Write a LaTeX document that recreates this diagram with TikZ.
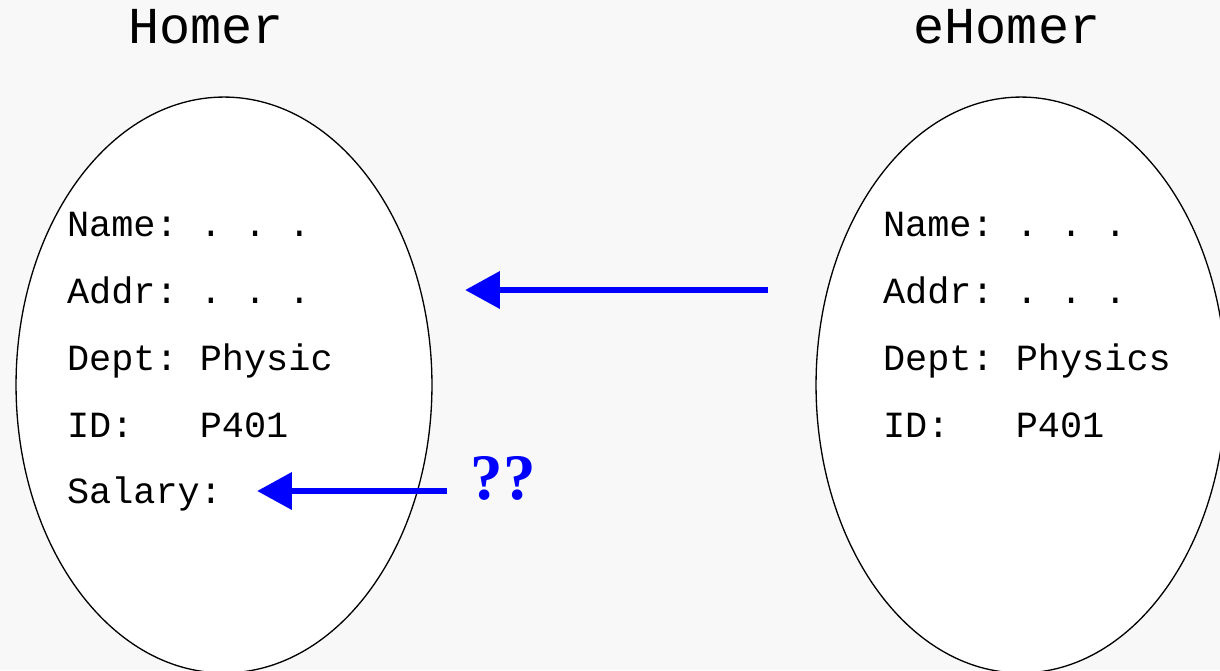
\documentclass[tikz,border=0pt]{standalone}
\usepackage{fontspec}
\setmainfont{Liberation Serif}
\setmonofont{Liberation Mono}
\usetikzlibrary{arrows.meta, shapes.geometric}
\definecolor{bggray}{HTML}{F8F8F8}
\definecolor{qblue}{RGB}{0,0,255}

\begin{document}
\begin{tikzpicture}[x=0.02cm, y=-0.02cm, every node/.style={inner sep=0pt, outer sep=0pt}, line join=miter,
	title/.style={anchor=base, font=\ttfamily\fontsize{29.5}{34}\selectfont},
	field/.style={anchor=base west, font=\ttfamily\fontsize{21}{25}\selectfont},
	record/.style={draw, ellipse, fill=white, line width=0.75pt, minimum width=8.32cm, minimum height=11.52cm},
	link/.style={draw=qblue, line width=3.97pt, -{Triangle[length=19.8pt, width=20.4pt]}}]

	% background and frame
	\fill[bggray] (0, 0) rectangle (1220, 670);
	\useasboundingbox (0, 0) rectangle (1220, 670);
	\clip (0, 0) rectangle (1220, 670);

	% Homer
	\node[title] (homerlbl) at (206, 43) {Homer};
	\node[record] (homer) at (224, 385) {};
	\node[field] (hname) at (67, 236) {Name: . . .};
	\node[field] (haddr) at (67, 303) {Addr: . . .};
	\node[field] (hdept) at (67, 370) {Dept: Physic};
	\node[field] (hid) at (67, 437) {ID:\ \ \ P401};
	\node[field] (hsal) at (67, 503) {Salary:};

	% eHomer
	\node[title] (ehomerlbl) at (1007, 43) {eHomer};
	\node[record, minimum width=8.2cm] (ehomer) at (1021, 385) {};
	\node[field] (ename) at (883, 236) {Name: . . .};
	\node[field] (eaddr) at (883, 303) {Addr: . . .};
	\node[field] (edept) at (883, 370) {Dept: Physics};
	\node[field] (eid) at (883, 437) {ID:\ \ \ P401};

	% arrows
	\coordinate (addrfrom) at (768, 290);
	\coordinate (addrto) at (465, 290);
	\coordinate (salfrom) at (447, 491);
	\coordinate (salto) at (257, 491);
	\draw[link] (addrfrom) -- (addrto);
	\draw[link] (salfrom) -- (salto);
	\node[anchor=base, text=qblue, font=\bfseries\fontsize{37}{40}\selectfont] (qq) at (503, 499) {??};
\end{tikzpicture}
\end{document}
